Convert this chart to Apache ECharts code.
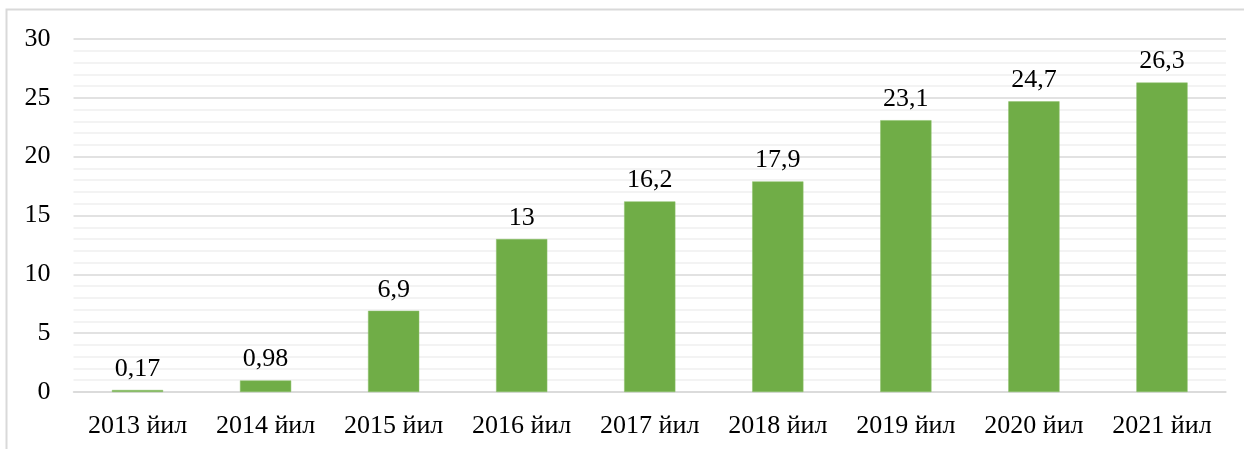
<!DOCTYPE html>
<html><head><meta charset="utf-8">
<script src="https://cdn.jsdelivr.net/npm/echarts@6/dist/echarts.min.js"></script>
<style>html,body{margin:0;padding:0;background:#fff}#c{width:1244px;height:449px}</style>
</head><body><div id="c"></div>
<script>
const categories = ["2013 йил","2014 йил","2015 йил","2016 йил","2017 йил","2018 йил","2019 йил","2020 йил","2021 йил"];
const values = [0.17, 0.98, 6.9, 13, 16.2, 17.9, 23.1, 24.7, 26.3];
const yTicks = [0, 5, 10, 15, 20, 25, 30];

const font = "'Liberation Serif', 'Times New Roman', serif";
const chart = echarts.init(document.getElementById('c'));
chart.setOption({
  animation: false,
  graphic: [{type:'rect', shape:{x:6.5,y:9.5,width:1300,height:500}, style:{fill:'none', stroke:'#d9d9d9', lineWidth:2}, silent:true}],
  grid: {left:73.5, right:18, top:39, bottom:57, containLabel:false},
  xAxis: {
    type:'category', data: categories,
    axisLine:{lineStyle:{color:'#d9d9d9', width:1.5}},
    axisTick:{show:false},
    axisLabel:{color:'#000', fontFamily:font, fontSize:26, margin:21, interval:0}
  },
  yAxis: {
    type:'value', min: yTicks[0], max: yTicks[yTicks.length-1], interval: 5,
    axisLine:{show:false}, axisTick:{show:false},
    axisLabel:{color:'#000', fontFamily:font, fontSize:26, margin:23},
    splitLine:{lineStyle:{color:'#d9d9d9', width:1.5}},
    minorTick:{show:false, splitNumber:5},
    minorSplitLine:{show:true, lineStyle:{color:'#efefef', width:1.5}}
  },
  series: [{
    type:'bar', data: values, barWidth:'40%',
    itemStyle:{color:'#70AD47', borderColor:'#8cc06a', borderWidth:0.5},
    label:{show:true, position:'top', distance:8, color:'#000', fontFamily:font, fontSize:26,
      formatter: p => String(p.value).replace('.', ',')}
  }]
});
</script></body></html>
